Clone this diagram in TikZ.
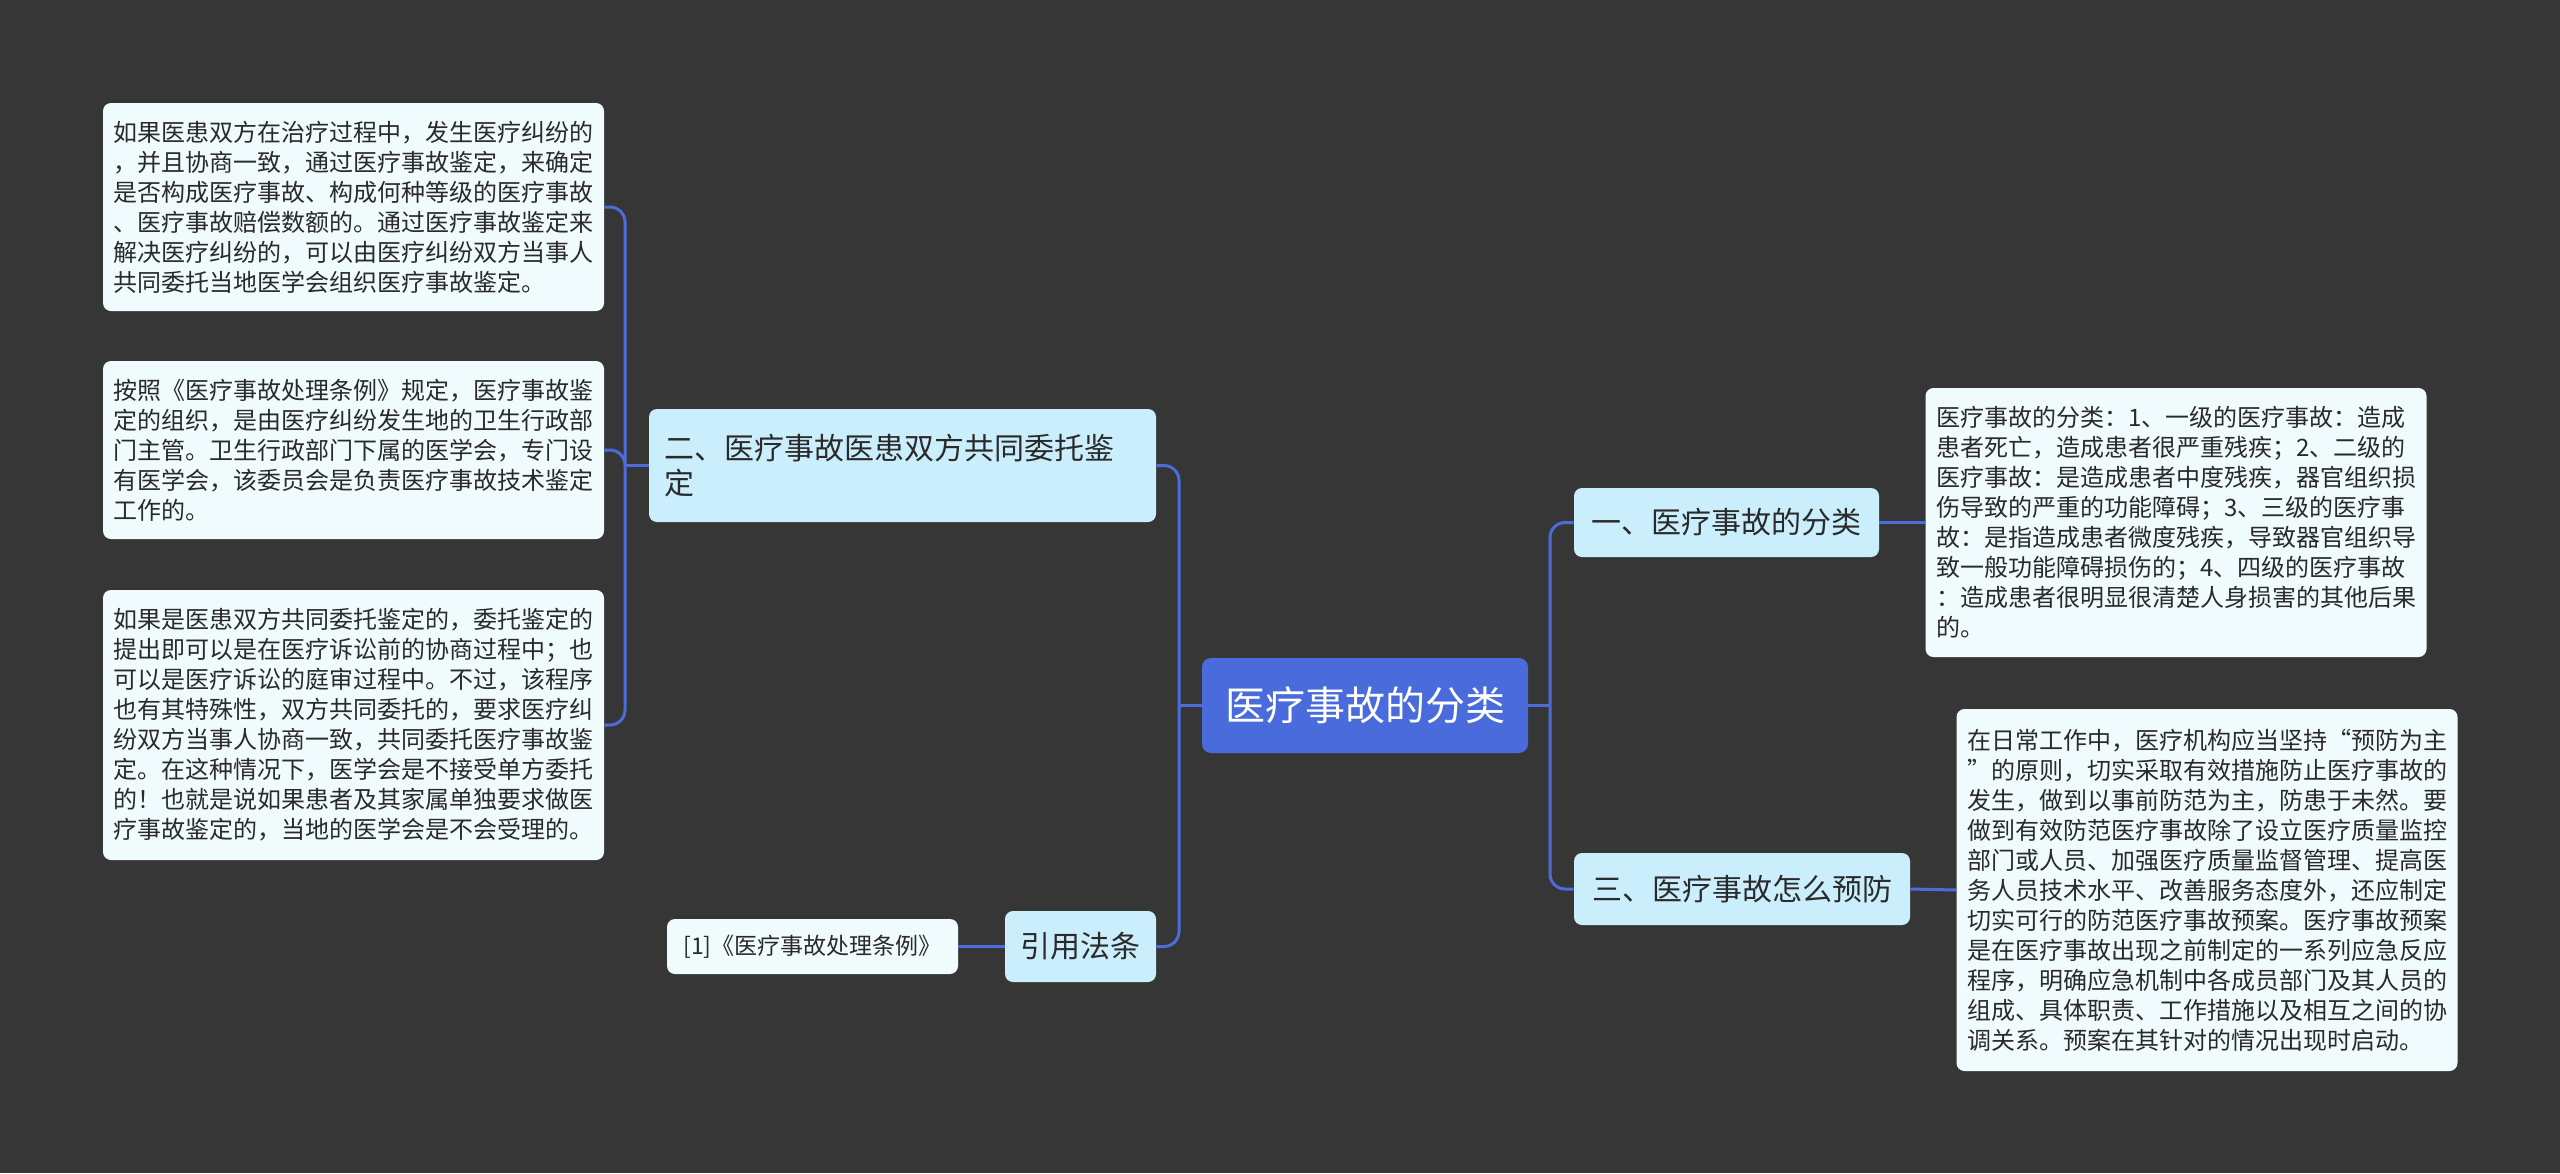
\documentclass[tikz,border=0pt]{standalone}
\usepackage{fontspec}
\setmainfont{Noto Sans CJK SC}
\definecolor{bgc}{HTML}{373636}
\definecolor{connc}{HTML}{4B6CDB}
\definecolor{rootc}{HTML}{4A6BDB}
\definecolor{lvlc}{HTML}{CBEEFC}
\definecolor{leafc}{HTML}{F0FBFD}
\definecolor{txtc}{HTML}{2A2A2A}
\tikzset{
  conn/.style={draw=connc, line width=1.5pt, rounded corners=7.5pt},
  leafbox/.style={fill=leafc, rounded corners=4pt, text=txtc, align=left,
    text width=240pt, inner xsep=5.25pt, inner ysep=0pt, minimum width=250.5pt,
    font=\fontsize{12pt}{15pt}\selectfont},
  lvlbox/.style={fill=lvlc, rounded corners=4pt, text=txtc, align=center,
    inner sep=0pt, font=\fontsize{15pt}{17.5pt}\selectfont},
  rootbox/.style={fill=rootc, rounded corners=4.5pt, text=white, align=center,
    inner sep=0pt, font=\fontsize{20pt}{24pt}\selectfont},
}
\begin{document}
\begin{tikzpicture}[x=0.5pt,y=-0.5pt]
\fill[bgc] (0,0) rectangle (2560,1173);
\useasboundingbox (0,0) rectangle (2560,1173);

% root
\node[rootbox, minimum width=163pt, minimum height=47.5pt] (root) at (1365,705.5) {医疗事故的分类};

% level 1
\node[lvlbox, minimum width=253.5pt, minimum height=56.5pt, text width=238.5pt, align=left] (er) at (902.5,465.5)
  {二、医疗事故医患双方共同委托鉴\\定};
\node[lvlbox, minimum width=75.5pt, minimum height=35.5pt] (yy) at (1080.5,946.5) {引用法条};
\node[lvlbox, minimum width=152.5pt, minimum height=34.5pt] (yi) at (1726.5,522.5) {一、医疗事故的分类};
\node[lvlbox, minimum width=168pt, minimum height=36pt] (san) at (1742,889) {三、医疗事故怎么预防};

% leaves
\node[leafbox, minimum height=104pt] (L1) at (353.5,207) {如果医患双方在治疗过程中，发生医疗纠纷的\\%
，并且协商一致，通过医疗事故鉴定，来确定\\%
是否构成医疗事故、构成何种等级的医疗事故\\%
、医疗事故赔偿数额的。通过医疗事故鉴定来\\%
解决医疗纠纷的，可以由医疗纠纷双方当事人\\%
共同委托当地医学会组织医疗事故鉴定。};

\node[leafbox, minimum height=89pt] (L2) at (353.5,450) {按照《医疗事故处理条例》规定，医疗事故鉴\\%
定的组织，是由医疗纠纷发生地的卫生行政部\\%
门主管。卫生行政部门下属的医学会，专门设\\%
有医学会，该委员会是负责医疗事故技术鉴定\\%
工作的。};

\node[leafbox, minimum height=135pt] (L3) at (353.5,725) {如果是医患双方共同委托鉴定的，委托鉴定的\\%
提出即可以是在医疗诉讼前的协商过程中；也\\%
可以是医疗诉讼的庭审过程中。不过，该程序\\%
也有其特殊性，双方共同委托的，要求医疗纠\\%
纷双方当事人协商一致，共同委托医疗事故鉴\\%
定。在这种情况下，医学会是不接受单方委托\\%
的！也就是说如果患者及其家属单独要求做医\\%
疗事故鉴定的，当地的医学会是不会受理的。};

\node[leafbox, minimum height=134.5pt] (R1) at (2176,522.5) {医疗事故的分类：1、一级的医疗事故：造成\\%
患者死亡，造成患者很严重残疾；2、二级的\\%
医疗事故：是造成患者中度残疾，器官组织损\\%
伤导致的严重的功能障碍；3、三级的医疗事\\%
故：是指造成患者微度残疾，导致器官组织导\\%
致一般功能障碍损伤的；4、四级的医疗事故\\%
：造成患者很明显很清楚人身损害的其他后果\\%
的。};

\node[leafbox, minimum height=181pt] (R2) at (2207,890) {在日常工作中，医疗机构应当坚持“预防为主\\%
”的原则，切实采取有效措施防止医疗事故的\\%
发生，做到以事前防范为主，防患于未然。要\\%
做到有效防范医疗事故除了设立医疗质量监控\\%
部门或人员、加强医疗质量监督管理、提高医\\%
务人员技术水平、改善服务态度外，还应制定\\%
切实可行的防范医疗事故预案。医疗事故预案\\%
是在医疗事故出现之前制定的一系列应急反应\\%
程序，明确应急机制中各成员部门及其人员的\\%
组成、具体职责、工作措施以及相互之间的协\\%
调关系。预案在其针对的情况出现时启动。};

\node[fill=leafc, rounded corners=4pt, text=txtc, inner sep=0pt,
  minimum width=145.5pt, minimum height=27.5pt, font=\fontsize{11.5pt}{14pt}\selectfont]
  (ref) at (812.5,946.5) {[1]《医疗事故处理条例》};

% junctions
\coordinate (lj) at (1179,705.5);
\coordinate (rj) at (1550,705.5);
\coordinate (ej) at (625,465.5);

% connectors
\draw[conn] (root.west) -- (lj);
\draw[conn] (lj) |- (er.east);
\draw[conn] (lj) |- (yy.east);
\draw[conn] (root.east) -- (rj);
\draw[conn] (rj) |- (yi.west);
\draw[conn] (rj) |- (san.west);
\draw[conn] (er.west) -- (ej);
\draw[conn] (ej) |- (L1.east);
\draw[conn] (ej) |- (L2.east);
\draw[conn] (ej) |- (L3.east);
\draw[conn] (yi.east) -- (R1.west);
\draw[conn] (san.east) -- (R2.west);
\draw[conn] (yy.west) -- (ref.east);
\end{tikzpicture}
\end{document}
